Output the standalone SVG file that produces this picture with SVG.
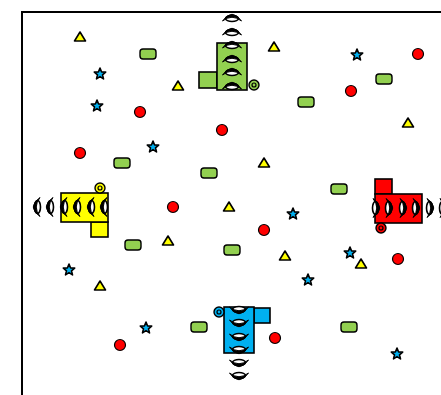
<svg xmlns="http://www.w3.org/2000/svg" xmlns:xlink="http://www.w3.org/1999/xlink" width="441" height="395" viewBox="0 0 441 395">
<style>
.tri{fill:#ffff00;stroke:#000;stroke-width:1.6;stroke-linejoin:round}
.star{fill:#00b0f0;stroke:#000;stroke-width:1.6;stroke-linejoin:round}
.dot{fill:#ff0000;stroke:#000;stroke-width:1.2}
.food{fill:#92d050;stroke:#000;stroke-width:1.4}
.body{stroke:#000;stroke-width:1.6}
.g{fill:#92d050}.y{fill:#ffff00}.r{fill:#ff0000}.b{fill:#00b0f0}
.wheel{stroke:#000;stroke-width:1.4}
.eye{fill:#fff;stroke:#000;stroke-width:1.6}
</style>
<defs>
<polygon id="tri" class="tri" points="0,-5 5.5,4 -5.5,4"/>
<polygon id="star" class="star" points="0,-6 1.6,-2 5.7,-1.9 2.5,0.8 3.5,4.9 0,2.6 -3.5,4.9 -2.5,0.8 -5.7,-1.9 -1.6,-2"/>
<circle id="dot" class="dot" r="5.5"/>
<rect id="food" class="food" x="-8" y="-5" width="16" height="10" rx="3"/>
<g id="seg">
<ellipse class="eye" cx="0" cy="1.5" rx="6.5" ry="3"/>
<path d="M-9.5,4 Q0,-9.5 9.5,4 Q0,-3.5 -9.5,4 Z" fill="#000" stroke="#000" stroke-width="1" stroke-linejoin="round"/>
</g>
</defs>
<path d="M22,395 V12 H441" fill="none" stroke="#000" stroke-width="2"/>

<g id="triangles">
<use href="#tri" x="80" y="37"/>
<use href="#tri" x="274" y="47"/>
<use href="#tri" x="178" y="86"/>
<use href="#tri" x="408" y="123"/>
<use href="#tri" x="264" y="163"/>
<use href="#tri" x="229" y="207"/>
<use href="#tri" x="168" y="241"/>
<use href="#tri" x="285" y="256"/>
<use href="#tri" x="361" y="264"/>
<use href="#tri" x="100" y="286"/>
</g>
<g id="stars">
<use href="#star" x="100" y="74"/>
<use href="#star" x="357" y="55"/>
<use href="#star" x="97" y="106"/>
<use href="#star" x="153" y="147"/>
<use href="#star" x="293" y="214"/>
<use href="#star" x="350" y="253"/>
<use href="#star" x="308" y="280"/>
<use href="#star" x="69" y="270"/>
<use href="#star" x="146" y="328"/>
<use href="#star" x="397" y="354"/>
</g>
<g id="dots">
<use href="#dot" x="418" y="54"/>
<use href="#dot" x="140" y="112"/>
<use href="#dot" x="351" y="91"/>
<use href="#dot" x="222" y="130"/>
<use href="#dot" x="80" y="153"/>
<use href="#dot" x="173" y="207"/>
<use href="#dot" x="264" y="230"/>
<use href="#dot" x="398" y="259"/>
<use href="#dot" x="275" y="338"/>
<use href="#dot" x="120" y="345"/>
</g>
<g id="foods">
<use href="#food" x="148" y="54"/>
<use href="#food" x="384" y="79"/>
<use href="#food" x="306" y="102"/>
<use href="#food" x="122" y="163"/>
<use href="#food" x="209" y="173"/>
<use href="#food" x="339" y="189"/>
<use href="#food" x="133" y="245"/>
<use href="#food" x="232" y="250"/>
<use href="#food" x="199" y="327"/>
<use href="#food" x="349" y="327"/>
</g>

<g id="snake-green">
<rect class="body g" x="199" y="72" width="18" height="16"/>
<rect class="body g" x="217" y="43" width="30" height="47"/>
<circle class="wheel g" cx="254" cy="85" r="5"/>
<circle cx="254" cy="85" r="2" fill="none" stroke="#000" stroke-width="1.2"/>
<use href="#seg" transform="translate(232,17)"/>
<use href="#seg" transform="translate(232,31)"/>
<use href="#seg" transform="translate(232,44)"/>
<use href="#seg" transform="translate(232,58)"/>
<use href="#seg" transform="translate(232,71)"/>
<use href="#seg" transform="translate(232,85)"/>
</g>

<g id="snake-yellow">
<rect class="body y" x="91" y="222" width="17" height="15"/>
<rect class="body y" x="61" y="193" width="47" height="29"/>
<circle class="wheel y" cx="100" cy="188" r="5"/>
<circle cx="100" cy="188" r="2" fill="none" stroke="#000" stroke-width="1.2"/>
<use href="#seg" transform="translate(36,207) rotate(-90)"/>
<use href="#seg" transform="translate(49,207) rotate(-90)"/>
<use href="#seg" transform="translate(63,207) rotate(-90)"/>
<use href="#seg" transform="translate(76,207) rotate(-90)"/>
<use href="#seg" transform="translate(90,207) rotate(-90)"/>
<use href="#seg" transform="translate(103,207) rotate(-90)"/>
</g>

<g id="snake-red">
<rect class="body r" x="375" y="179" width="17" height="15"/>
<rect class="body r" x="375" y="194" width="47" height="29"/>
<circle class="wheel r" cx="381" cy="228" r="5"/>
<circle cx="381" cy="228" r="2" fill="none" stroke="#000" stroke-width="1.2"/>
<use href="#seg" transform="translate(377,208) rotate(90)"/>
<use href="#seg" transform="translate(390,208) rotate(90)"/>
<use href="#seg" transform="translate(404,208) rotate(90)"/>
<use href="#seg" transform="translate(417,208) rotate(90)"/>
<use href="#seg" transform="translate(431,208) rotate(90)"/>
<use href="#seg" transform="translate(444,208) rotate(90)"/>
</g>

<g id="snake-blue">
<rect class="body b" x="254" y="308" width="16" height="15"/>
<rect class="body b" x="224" y="307" width="30" height="46"/>
<circle class="wheel b" cx="219" cy="312" r="5"/>
<circle cx="219" cy="312" r="2" fill="none" stroke="#000" stroke-width="1.2"/>
<use href="#seg" transform="translate(239,311) rotate(180)"/>
<use href="#seg" transform="translate(239,324) rotate(180)"/>
<use href="#seg" transform="translate(239,338) rotate(180)"/>
<use href="#seg" transform="translate(239,351) rotate(180)"/>
<use href="#seg" transform="translate(239,364) rotate(180)"/>
<use href="#seg" transform="translate(239,377) rotate(180)"/>
</g>
</svg>
